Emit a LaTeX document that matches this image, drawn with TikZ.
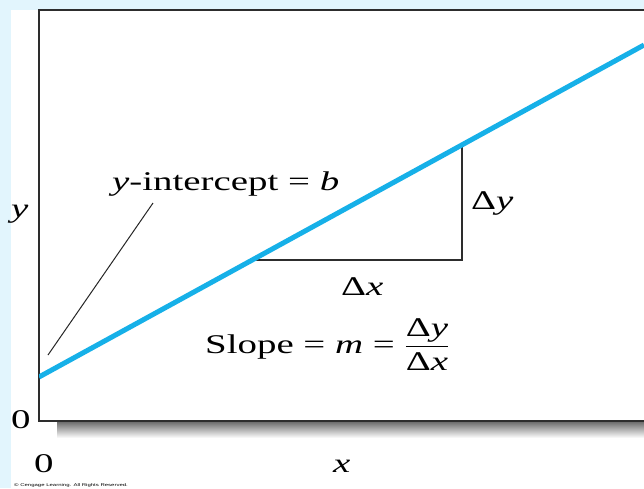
\documentclass[tikz,border=0pt]{standalone}
\usepackage{amsmath}
\usepackage{fontspec}
\setmainfont{Liberation Serif}[FakeStretch=1.44]
\newfontfamily\creditfont{Liberation Sans}[FakeStretch=1.5]
\usetikzlibrary{positioning}
\definecolor{panelblue}{RGB}{226,245,253}
\definecolor{lineblue}{RGB}{22,176,232}
\definecolor{framegray}{RGB}{45,45,45}

\begin{document}
\begin{tikzpicture}[x=1pt, y=-1pt,
  font=\fontsize{27}{32}\selectfont,
  axisline/.style={draw=framegray, line width=2pt},
  fitline/.style={draw=lineblue, line width=5pt},
  legline/.style={draw=framegray, line width=1.6pt},
  pointer/.style={draw=black!85, line width=1pt},
  lbl/.style={inner sep=0pt, anchor=base west}
]
\useasboundingbox (0,0) rectangle (644,488);
\fill[panelblue] (0,0) rectangle (644,488);
\fill[white] (11,10) rectangle (644,488);
% shadow under the x axis
\shade[top color=black!60, bottom color=white] (57,421) rectangle (644,438);
% frame
\coordinate (org) at (39,421);
\coordinate (topl) at (39,10);
\coordinate (topr) at (644,10);
\coordinate (botr) at (644,421);
\draw[axisline] (topr) -- (topl) -- (org) -- (botr);
% slope triangle
\coordinate (run0) at (255,260);
\coordinate (run1) at (462,260);
\coordinate (rise1) at (462,146);
\draw[legline] (run0) -- (run1) -- (rise1);
% the line itself
\coordinate (icept) at (39,377);
\coordinate (far) at (644,45);
\begin{scope}
  \clip (39,10) rectangle (644,421);
  \draw[fitline] (icept) -- (far);
\end{scope}
% pointer to the intercept
\coordinate (ptr0) at (48,355);
\coordinate (ptr1) at (153,203);
\draw[pointer] (ptr0) -- (ptr1);
% labels
\node[lbl] (ylab) at (11,217) {\textit{y}};
\node[lbl] (icptlab) at (112,190) {\textit{y}-intercept = \textit{b}};
\node[lbl] (dylab) at (471,209) {Δ\textit{y}};
\node[lbl] (dxlab) at (341,295) {Δ\textit{x}};
\node[lbl] (slopelab) at (205,353) {Slope = \textit{m} = $\dfrac{\text{Δ\textit{y}}}{\text{Δ\textit{x}}}$};
\node[lbl] (yzero) at (11,428) {0};
\node[lbl] (xzero) at (34,472) {0};
\node[lbl] (xlab) at (333,472) {\textit{x}};
\node[lbl, font=\creditfont\fontsize{4}{5}\selectfont] (credit) at (14,486) {© Cengage Learning. All Rights Reserved.};
\end{tikzpicture}
\end{document}
